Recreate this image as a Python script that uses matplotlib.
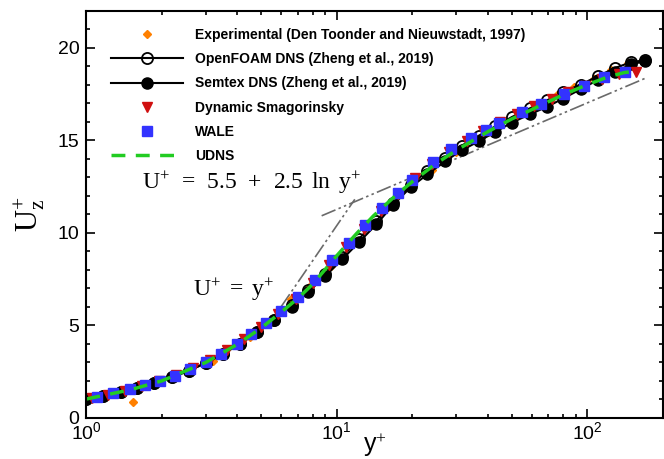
import numpy as np
import matplotlib
matplotlib.use("Agg")
import matplotlib.pyplot as plt
from matplotlib.ticker import LogLocator, MultipleLocator, LogFormatterMathtext, NullFormatter

# --- data ---
exp_y = [1.53, 2.2, 3.2, 4.5, 5.6, 6.55, 7.8, 9.5, 11.5, 13.4, 16, 19.5, 24, 30, 40, 50,
         59.4, 76, 88.6, 106, 124, 145, 165]
exp_u = [0.86, 2.15, 3.05, 4.35, 5.3, 6.4, 7.1, 8.2, 9.45, 10.5, 11.4, 12.5, 13.4, 14.35, 15.45,
         16.1, 16.6, 17.45, 17.85, 18.3, 18.8, 19.15, 19.3]

dns_y = [1.0, 1.17, 1.37, 1.6, 1.87, 2.19, 2.56, 3.0, 3.5, 4.1, 4.8, 5.6, 6.6, 7.7, 9.0, 10.5,
         12.3, 14.4, 16.8, 19.7, 23.0, 27.0, 31.5, 37, 43, 50, 59, 69, 80, 94, 110, 129, 150, 170]
openfoam_u = [1.0, 1.17, 1.37, 1.6, 1.86, 2.17, 2.53, 2.96, 3.44, 4.0, 4.63, 5.3, 6.08, 6.9, 7.78,
              8.7, 9.68, 10.65, 11.6, 12.55, 13.35, 14.05, 14.7, 15.25, 15.75, 16.25, 16.72,
              17.15, 17.6, 18.0, 18.45, 18.9, 19.22, 19.32]
semtex_u = [1.0, 1.17, 1.37, 1.6, 1.86, 2.17, 2.52, 2.95, 3.42, 3.97, 4.6, 5.25, 6.0, 6.8, 7.65,
            8.55, 9.5, 10.45, 11.5, 12.45, 13.15, 13.85, 14.45, 14.95, 15.45, 15.95, 16.4,
            16.8, 17.25, 17.75, 18.25, 18.7, 19.1, 19.27]

dsm_y = [1.05, 1.22, 1.43, 1.67, 1.95, 2.28, 2.67, 3.12, 3.65, 4.27, 5.0, 5.85, 6.85, 8.0, 9.35,
         10.9, 12.8, 15.0, 17.5, 20.5, 24.0, 28.0, 33.0, 38.5, 45, 52.5, 61.5, 72, 84, 98, 115,
         134, 157]
dsm_u = [1.05, 1.24, 1.44, 1.68, 1.95, 2.28, 2.67, 3.12, 3.63, 4.22, 4.88, 5.6, 6.42, 7.3, 8.25,
         9.2, 10.2, 11.15, 12.1, 12.95, 13.7, 14.35, 14.95, 15.5, 15.98, 16.4, 16.82, 17.22,
         17.6, 17.95, 18.3, 18.55, 18.7]

wale_y = [1.1, 1.28, 1.5, 1.72, 1.97, 2.27, 2.6, 3.0, 3.45, 4.0, 4.55, 5.2, 6.0, 7.0, 8.2, 9.6,
          11.2, 13.0, 15.2, 17.5, 19.9, 24.3, 28.7, 34.2, 39.5, 44.4, 55, 65.2, 80.8, 96.7, 117, 142]
wale_u = [1.12, 1.3, 1.52, 1.74, 1.97, 2.27, 2.6, 3.0, 3.45, 3.98, 4.5, 5.1, 5.75, 6.5, 7.45,
          8.5, 9.45, 10.4, 11.35, 12.15, 12.87, 13.8, 14.5, 15.1, 15.55, 15.9, 16.5, 16.98,
          17.5, 17.95, 18.4, 18.7]

udns_y = [1.0, 1.5, 2.0, 3.0, 4.0, 5.0, 6.0, 7.0, 8.0, 10, 12, 14, 17, 20, 25, 30, 40, 50, 60,
          80, 100, 120, 140, 160]
udns_u = [1.0, 1.5, 1.98, 2.98, 3.95, 4.85, 5.7, 6.45, 7.2, 8.75, 9.95, 10.9, 11.95, 12.75,
          13.75, 14.45, 15.45, 16.15, 16.65, 17.45, 18.0, 18.4, 18.65, 18.75]

lin_y = [6.0, 11.8]
log_y = [8.7, 12, 20, 50, 100, 170]

plt.rcParams['font.family'] = ['Liberation Sans', 'DejaVu Sans']
plt.rcParams['mathtext.fontset'] = 'custom'
plt.rcParams['mathtext.rm'] = 'Liberation Serif'
plt.rcParams['mathtext.it'] = 'Liberation Serif:italic'

fig = plt.figure(figsize=(6.64, 4.59), dpi=100)
ax = fig.add_axes([0.13, 0.0904, 0.868, 0.8863])

refstyle = dict(color='#6a6a6a', lw=1.2, dashes=(9, 2, 1.5, 2, 1.5, 2))
ax.plot(lin_y, lin_y, **refstyle)
ax.plot(log_y, [5.5 + 2.5 * np.log(v) for v in log_y], **refstyle)

ax.plot(exp_y, exp_u, 'D', color='#ff8000', ms=4.5, mec='#ff8000', ls='none',
        label='Experimental (Den Toonder and Nieuwstadt, 1997)')
ax.plot(dns_y, openfoam_u, '-o', color='black', mfc='none', mec='black', ms=8, mew=1.3, lw=1.5,
        label='OpenFOAM DNS (Zheng et al., 2019)')
ax.plot(dns_y, semtex_u, '-o', color='black', ms=8, lw=1.5,
        label='Semtex DNS (Zheng et al., 2019)')
ax.plot(dsm_y, dsm_u, 'v', color='#d01010', ms=6.5, ls='none', label='Dynamic Smagorinsky')
ax.plot(wale_y, wale_u, 's', color='#3333ff', ms=6.5, ls='none', label='WALE')
ax.plot(udns_y, udns_u, '--', color='#22cc22', lw=2.5, dashes=(4, 3), label='UDNS')

ax.set_xscale('log')
ax.set_xlim(1, 200)
ax.set_ylim(0, 22)
ax.xaxis.set_major_locator(LogLocator(base=10))
ax.xaxis.set_major_formatter(LogFormatterMathtext())
ax.xaxis.set_minor_locator(LogLocator(base=10, subs=np.arange(2, 10)))
ax.xaxis.set_minor_formatter(NullFormatter())
ax.yaxis.set_major_locator(MultipleLocator(5))
ax.yaxis.set_minor_locator(MultipleLocator(1))

ax.tick_params(which='both', direction='in', top=True, right=True, width=1.2)
ax.tick_params(which='major', length=6.5)
ax.tick_params(which='minor', length=3)
ax.tick_params(axis='y', labelsize=14, pad=5)
ax.tick_params(axis='x', labelsize=14, pad=3)
for s in ax.spines.values():
    s.set_linewidth(1.5)

ax.set_xlabel('y$^{+}$', fontsize=18, labelpad=-9)
ax.set_ylabel(r'$\mathrm{U}_{\mathrm{z}}^{+}$', fontsize=22, labelpad=8)

ax.text(0.097, 0.576,
        r'$\mathrm{U}^{+}\ \,=\ \,5.5\ \,+\ \,2.5\ \,\mathrm{ln}\ \,\mathrm{y}^{+}$',
        transform=ax.transAxes, fontsize=17, va='center', ha='left')
ax.text(0.185, 0.313, r'$\mathrm{U}^{+}\ =\ \mathrm{y}^{+}$',
        transform=ax.transAxes, fontsize=17, va='center', ha='left')

leg = ax.legend(loc='upper left', bbox_to_anchor=(0.03, 0.975), frameon=False,
                prop={'weight': 'bold', 'size': 10}, handlelength=5.2,
                handletextpad=0.9, labelspacing=0.74, borderpad=0)

fig.savefig('out.png', dpi=100)
